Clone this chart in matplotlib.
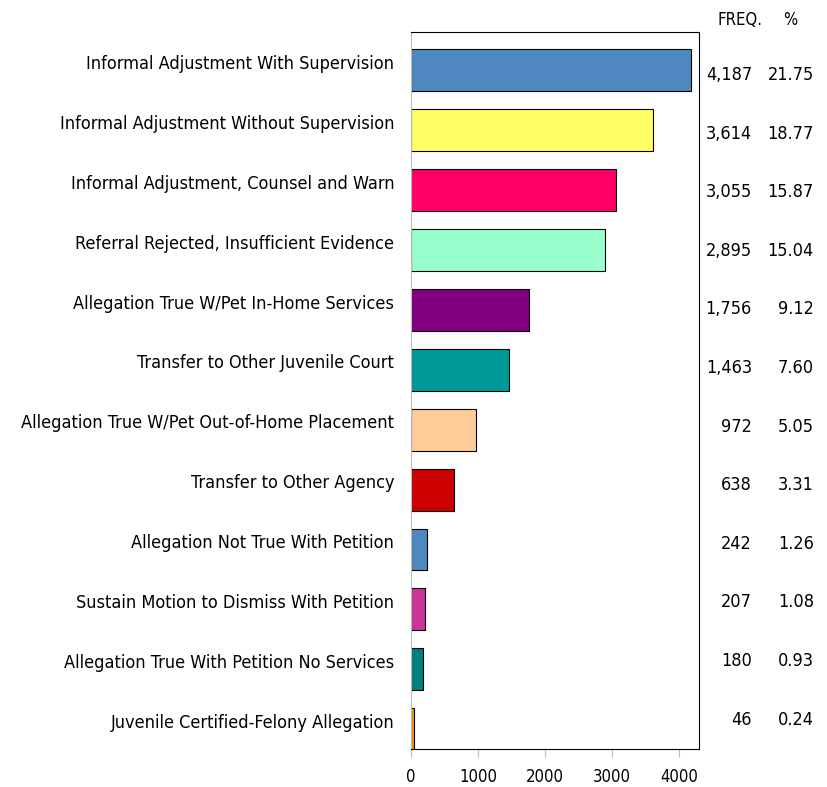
import matplotlib.pyplot as plt

# Disposition categories (top to bottom)
categories = [
    "Informal Adjustment With Supervision",
    "Informal Adjustment Without Supervision",
    "Informal Adjustment, Counsel and Warn",
    "Referral Rejected, Insufficient Evidence",
    "Allegation True W/Pet In-Home Services",
    "Transfer to Other Juvenile Court",
    "Allegation True W/Pet Out-of-Home Placement",
    "Transfer to Other Agency",
    "Allegation Not True With Petition",
    "Sustain Motion to Dismiss With Petition",
    "Allegation True With Petition No Services",
    "Juvenile Certified-Felony Allegation",
]
freq = [4187, 3614, 3055, 2895, 1756, 1463, 972, 638, 242, 207, 180, 46]
pct = [21.75, 18.77, 15.87, 15.04, 9.12, 7.60, 5.05, 3.31, 1.26, 1.08, 0.93, 0.24]
colors = ["#4F88BE", "#FFFF66", "#FF0066", "#99FFCC", "#800080", "#009999",
          "#FFCC99", "#CC0000", "#4F88BE", "#CC3399", "#007F7F", "#FF9900"]

font = dict(family="DejaVu Sans", stretch="condensed")
W, H = 828, 787

fig = plt.figure(figsize=(W / 100, H / 100), dpi=100)
ax = fig.add_axes([411 / W, 1 - 749 / H, 288 / W, 717 / H])

ypos = list(range(len(categories)))
ax.barh(ypos, freq, height=0.70, color=colors, edgecolor="black", linewidth=0.8)
ax.set_ylim(11.33, -0.64)
ax.set_xlim(0, 4300)
# labels sit a little above the bar centres in the original
ax.set_yticks([y - 0.14 for y in ypos])
ax.set_yticklabels(categories, fontsize=13, **font)
ax.tick_params(axis="y", length=0, pad=12)
ax.set_xticks([0, 1000, 2000, 3000, 4000])
ax.tick_params(axis="x", length=6, color="#BBBBBB", labelsize=12, pad=8)
for lbl in ax.get_xticklabels():
    lbl.set_fontstretch("condensed")
ax.spines["left"].set_color("#BBBBBB")
for s in ["top", "right", "bottom"]:
    ax.spines[s].set_color("black")

# Frequency / percent table to the right of the axes
fig.text(740 / W, 1 - 20 / H, "FREQ.", ha="center", va="center", fontsize=12, **font)
fig.text(790 / W, 1 - 20 / H, "%", ha="center", va="center", fontsize=12, **font)
for i, (f, p) in enumerate(zip(freq, pct)):
    yy = 1 - (75 + 58.6 * i) / H
    fig.text(752 / W, yy, f"{f:,}", ha="right", va="center", fontsize=13, **font)
    fig.text(814 / W, yy, f"{p:.2f}", ha="right", va="center", fontsize=13, **font)

fig.savefig("out.png", dpi=100)
